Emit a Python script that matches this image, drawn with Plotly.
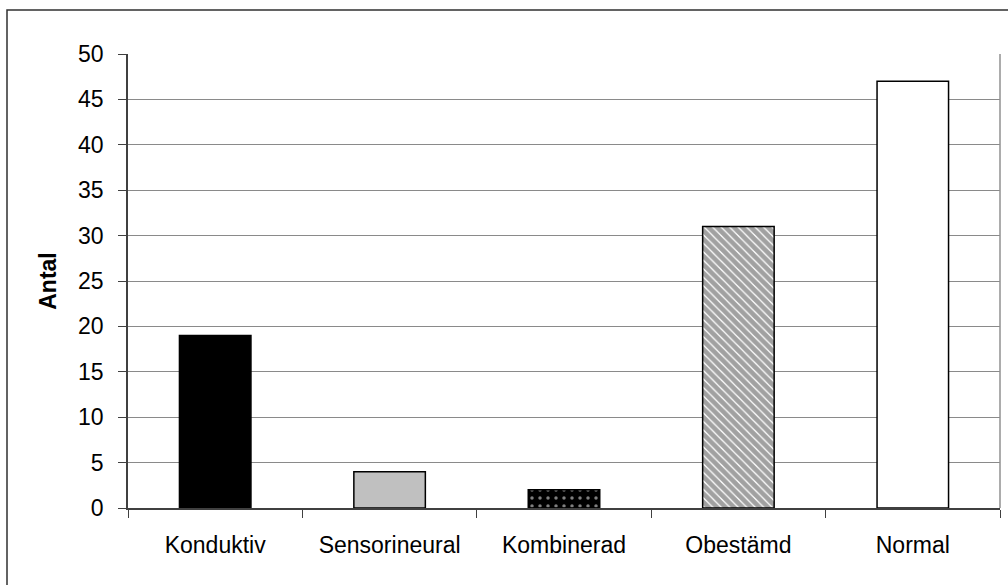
import plotly.graph_objects as go

categories = ["Konduktiv", "Sensorineural", "Kombinerad", "Obestämd", "Normal"]
counts = [19, 4, 2, 31, 47]

fill_colors = ["#000000", "#c0c0c0", "#000000", "#ffffff", "#ffffff"]
pattern_shapes = ["", "", ".", "\\", ""]
pattern_fg = ["#000000", "#000000", "#ffffff", "#000000", "#000000"]
pattern_sizes = [8, 8, 8, 6, 8]
pattern_solidity = [0.3, 0.3, 0.15, 0.8, 0.3]

fig = go.Figure(
    go.Bar(
        x=categories,
        y=counts,
        width=0.41,
        marker=dict(
            color=fill_colors,
            line=dict(color="#000000", width=1.5),
            pattern=dict(
                shape=pattern_shapes,
                fgcolor=pattern_fg,
                size=pattern_sizes,
                solidity=pattern_solidity,
                fillmode="overlay",
            ),
        ),
        hoverinfo="x+y",
    )
)

L, R, T, B = 128, 8, 54, 77
W, H = 1008, 585
pw, ph = W - L - R, H - T - B

def px_x(p):
    return (p - L) / pw

def px_y(p):
    return (H - B - p) / ph

fig.update_layout(
    width=W,
    height=H,
    margin=dict(l=L, r=R, t=T, b=B),
    paper_bgcolor="#ffffff",
    plot_bgcolor="#ffffff",
    font=dict(family="Liberation Sans, Arial, sans-serif", size=23, color="#000000"),
    showlegend=False,
    bargap=0.59,
    shapes=[
        # outer chart frame
        dict(type="rect", xref="paper", yref="paper",
             x0=px_x(7), x1=px_x(1012), y0=px_y(592), y1=px_y(10),
             line=dict(color="#303030", width=1.5), fillcolor="rgba(0,0,0,0)"),
        # right edge of the plot area
        dict(type="line", xref="paper", yref="paper",
             x0=1, x1=1, y0=0, y1=1,
             line=dict(color="#909090", width=1.5)),
    ],
)

fig.update_xaxes(
    showgrid=False,
    showline=True,
    linecolor="#404040",
    linewidth=1.5,
    ticks="outside",
    tickson="boundaries",
    ticklen=8,
    tickwidth=1.2,
    tickcolor="#404040",
    tickfont=dict(size=23),
    ticklabelstandoff=16,
)

fig.update_yaxes(
    range=[0, 50],
    dtick=5,
    showgrid=True,
    gridcolor="#8a8a8a",
    gridwidth=1.2,
    showline=True,
    linecolor="#404040",
    linewidth=1.5,
    ticks="outside",
    ticklen=8,
    tickwidth=1.2,
    tickcolor="#404040",
    tickfont=dict(size=23),
    ticklabelstandoff=10,
    zeroline=False,
    title=dict(text="<b>Antal</b>", font=dict(size=23), standoff=15),
)

fig.write_html("out.html")
